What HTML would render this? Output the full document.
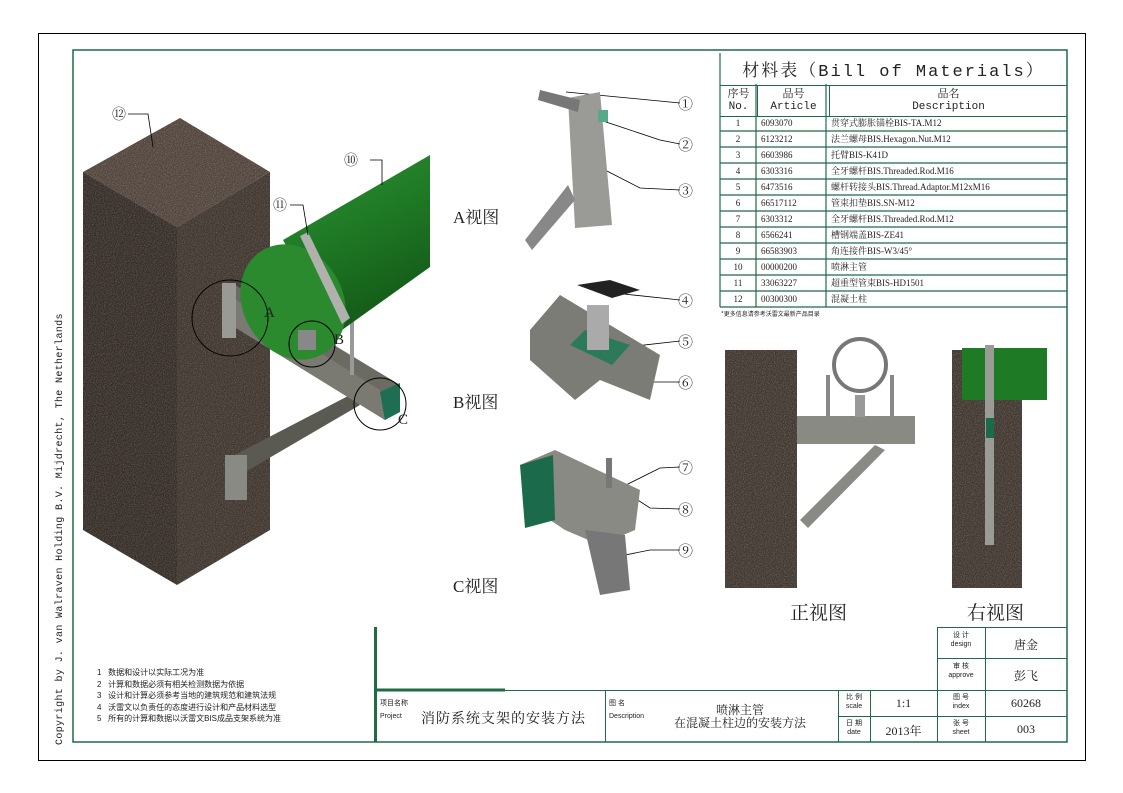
<!DOCTYPE html>
<html><head><meta charset="utf-8"><style>
body{margin:0;background:#fff;}
#c{position:relative;width:1123px;height:793px;overflow:hidden;font-family:"Liberation Serif","Noto Serif CJK SC",serif;color:#222;}
.t{position:absolute;white-space:nowrap;}
table{border-collapse:collapse;}
.g>div{padding-left:5px;}
.g>div.n{text-align:center;padding-left:0}
</style></head><body><div id="c">
<svg width="1123" height="793" style="position:absolute;left:0;top:0">
<defs>
<filter id="n" x="0" y="0" width="100%" height="100%"><feTurbulence type="fractalNoise" baseFrequency="0.9" numOctaves="2" result="t"/><feColorMatrix type="matrix" values="0 0 0 0 0.35 0 0 0 0 0.3 0 0 0 0 0.27 0 0 0 -2.2 1.4"/><feComposite in2="SourceGraphic" operator="in"/></filter>
<linearGradient id="pg" x1="0" y1="0" x2="0.4" y2="1"><stop offset="0" stop-color="#2f8f33"/><stop offset="0.5" stop-color="#1f7a25"/><stop offset="1" stop-color="#145a18"/></linearGradient>
</defs>
<rect x="38.5" y="33.5" width="1047" height="727" fill="none" stroke="#000" stroke-width="1"/>
<rect x="73" y="50" width="994" height="692" fill="none" stroke="#1e6b45" stroke-width="1.5"/>
<!-- column -->
<polygon points="83,172 180,118 270,172 177,227" fill="#4f433b"/>
<polygon points="83,172 177,227 177,585 83,530" fill="#342c27"/>
<polygon points="177,227 270,172 270,530 177,585" fill="#3f3630"/>
<polygon points="83,172 180,118 270,172 177,227" fill="#fff" filter="url(#n)" opacity="0.5"/>
<polygon points="83,172 177,227 177,585 83,530" fill="#fff" filter="url(#n)" opacity="0.4"/>
<polygon points="177,227 270,172 270,530 177,585" fill="#fff" filter="url(#n)" opacity="0.4"/>
<!-- brace lower -->
<polygon points="225,460 350,395 360,405 235,478" fill="#5a5a52"/>
<rect x="225" y="455" width="22" height="45" fill="#8a8a84"/>
<!-- channel -->
<polygon points="223,292 235,285 400,385 400,410 385,420 223,320" fill="#6b6b64"/>
<polygon points="223,292 380,390 385,420 223,320" fill="#7a7a72"/>
<polygon points="380,392 400,383 400,412 385,420" fill="#1d6e52"/>
<rect x="222" y="283" width="14" height="55" fill="#9a9a94"/>
<!-- rod -->
<rect x="350" y="315" width="4" height="60" fill="#999"/>
<!-- pipe -->
<polygon points="283,240 430,155 430,267 335,335" fill="url(#pg)"/>
<ellipse cx="293" cy="302" rx="50" ry="60" fill="#2a8a2d" transform="rotate(-30 293 302)"/>
<polygon points="300,236 308,232 350,318 342,324" fill="#b0b0ac"/>
<rect x="298" y="330" width="18" height="20" fill="#888"/>
<!-- circles -->
<circle cx="230" cy="318" r="38" fill="none" stroke="#000"/>
<circle cx="312" cy="344" r="23" fill="none" stroke="#000"/>
<circle cx="380" cy="404" r="26" fill="none" stroke="#000"/>
<!-- leaders -->
<g fill="none" stroke="#000" stroke-width="0.8">
<polyline points="128,114 148,114 153,147"/>
<polyline points="370,160 382,160 382,185"/>
<polyline points="290,205 303,205 308,235"/>
<polyline points="566,92 680,103"/><polyline points="600,120 660,140 680,144"/><polyline points="605,170 640,188 680,190"/>
<polyline points="605,292 680,300"/><polyline points="600,350 680,341"/><polyline points="605,365 650,382 680,382"/>
<polyline points="620,488 660,468 680,467"/><polyline points="610,482 650,508 680,509"/><polyline points="600,560 650,550 680,550"/>
</g>
<!-- view A -->
<polygon points="568,98 600,92 612,225 575,228" fill="#9a9a96"/>
<polygon points="540,90 580,100 578,112 538,100" fill="#777"/>
<polygon points="525,240 568,185 575,200 532,250" fill="#888"/>
<rect x="598" y="110" width="10" height="12" fill="#5a8"/>
<!-- view B -->
<polygon points="530,330 560,295 660,355 650,400 600,380 575,400 530,360" fill="#7c7c76"/>
<polygon points="570,345 585,330 630,345 612,365" fill="#2c7a5a"/>
<rect x="587" y="305" width="22" height="45" fill="#aaa"/>
<polygon points="577,285 610,280 640,290 612,298" fill="#222"/>
<!-- view C -->
<polygon points="520,465 555,450 640,490 635,530 600,545 565,530 550,520" fill="#8a8a84"/>
<polygon points="520,465 553,455 555,520 525,528" fill="#1b6a4c"/>
<polygon points="585,530 625,535 630,590 600,595" fill="#777"/>
<rect x="606" y="458" width="6" height="30" fill="#777"/>
<!-- front view -->
<rect x="725" y="350" width="72" height="238" fill="#3f3630"/>
<rect x="725" y="350" width="72" height="238" fill="#fff" filter="url(#n)" opacity="0.45"/>
<rect x="797" y="416" width="118" height="28" fill="#8a8a84"/>
<polygon points="800,520 875,445 885,450 808,528" fill="#8a8a84"/>
<circle cx="860" cy="365" r="26" fill="none" stroke="#777" stroke-width="4"/>
<rect x="826" y="375" width="4" height="42" fill="#888"/><rect x="890" y="375" width="4" height="42" fill="#888"/>
<rect x="855" y="395" width="10" height="22" fill="#999"/>
<!-- right view -->
<rect x="952" y="350" width="70" height="238" fill="#3f3630"/>
<rect x="952" y="350" width="70" height="238" fill="#fff" filter="url(#n)" opacity="0.45"/>
<rect x="962" y="348" width="85" height="52" fill="#1f7a25"/>
<rect x="985" y="345" width="9" height="200" fill="#9a9a96"/>
<rect x="986" y="418" width="8" height="20" fill="#1b6a4c"/>
<!-- title block lines -->
<g stroke="#1e6b45" fill="none" stroke-width="1">
<line x1="375.5" y1="627" x2="375.5" y2="742" stroke-width="3"/>
<line x1="375" y1="690" x2="505" y2="690" stroke-width="3"/>
<line x1="505" y1="690.5" x2="1067" y2="690.5"/>
<line x1="937" y1="627.5" x2="1067" y2="627.5"/>
<line x1="937.5" y1="627" x2="937.5" y2="742"/>
<line x1="985.5" y1="627" x2="985.5" y2="742"/>
<line x1="937" y1="658.5" x2="1067" y2="658.5"/>
<line x1="605.5" y1="690" x2="605.5" y2="742"/>
<line x1="838.5" y1="690" x2="838.5" y2="742"/>
<line x1="870.5" y1="690" x2="870.5" y2="742"/>
<line x1="838" y1="716.5" x2="1067" y2="716.5"/>
</g>
</svg>
<!-- balloons -->
<div class="t" style="left:112px;top:104px;font-size:14px">⑫</div>
<div class="t" style="left:344px;top:150px;font-size:14px">⑩</div>
<div class="t" style="left:273px;top:195px;font-size:14px">⑪</div>
<div class="t" style="left:678px;top:93px;font-size:15px">①</div>
<div class="t" style="left:678px;top:134px;font-size:15px">②</div>
<div class="t" style="left:678px;top:180px;font-size:15px">③</div>
<div class="t" style="left:678px;top:290px;font-size:15px">④</div>
<div class="t" style="left:678px;top:331px;font-size:15px">⑤</div>
<div class="t" style="left:678px;top:372px;font-size:15px">⑥</div>
<div class="t" style="left:678px;top:457px;font-size:15px">⑦</div>
<div class="t" style="left:678px;top:499px;font-size:15px">⑧</div>
<div class="t" style="left:678px;top:540px;font-size:15px">⑨</div>
<div class="t" style="left:264px;top:305px;font-size:15px">A</div>
<div class="t" style="left:334px;top:332px;font-size:15px">B</div>
<div class="t" style="left:398px;top:412px;font-size:15px">C</div>
<div class="t" style="left:453px;top:203px;font-size:17px">A视图</div>
<div class="t" style="left:453px;top:388px;font-size:17px">B视图</div>
<div class="t" style="left:453px;top:572px;font-size:17px">C视图</div>
<div class="t" style="left:790px;top:598px;font-size:19px">正视图</div>
<div class="t" style="left:967px;top:598px;font-size:19px">右视图</div>
<div class="t" style="left:55px;top:745px;font-size:10px;transform:rotate(-90deg);transform-origin:0 0;letter-spacing:0.35px;font-family:'Liberation Mono',monospace">Copyright by J. van Walraven Holding B.V.  Mijdrecht, The Netherlands</div>
<!-- BOM -->
<table style="position:absolute;left:720px;top:53px;width:347px;font-size:9.5px;" border="0">
<tr><td colspan="3" style="height:30px;border-bottom:1.5px solid #1e6b45;text-align:center;font-size:17px;letter-spacing:2px;font-family:'Liberation Mono','Noto Serif CJK SC',monospace">材料表（Bill of Materials）</td></tr>
<tr style="height:31px;text-align:center;font-size:11px;line-height:12px;font-family:'Liberation Mono','Noto Serif CJK SC',monospace"><td style="width:35px;border-right:1.5px solid #1e6b45;border-bottom:1.5px solid #1e6b45">序号<br>No.</td><td style="width:69px;border-right:1.5px solid #1e6b45;border-bottom:1.5px solid #1e6b45">品号<br>Article</td><td style="border-bottom:1.5px solid #1e6b45">品名<br>Description</td></tr>
</table>
<div style="position:absolute;left:720px;top:115px;width:347px;font-size:9px;font-family:'Liberation Serif','Noto Serif CJK SC',serif">
<div class="g" style="display:grid;grid-template-columns:36px 70px 1fr;grid-auto-rows:16px;line-height:16px">
<div class="n">1</div><div>6093070</div><div>贯穿式膨胀锚栓BIS-TA.M12</div>
<div class="n">2</div><div>6123212</div><div>法兰螺母BIS.Hexagon.Nut.M12</div>
<div class="n">3</div><div>6603986</div><div>托臂BIS-K41D</div>
<div class="n">4</div><div>6303316</div><div>全牙螺杆BIS.Threaded.Rod.M16</div>
<div class="n">5</div><div>6473516</div><div>螺杆转接头BIS.Thread.Adaptor.M12xM16</div>
<div class="n">6</div><div>66517112</div><div>管束扣垫BIS.SN-M12</div>
<div class="n">7</div><div>6303312</div><div>全牙螺杆BIS.Threaded.Rod.M12</div>
<div class="n">8</div><div>6566241</div><div>槽钢端盖BIS-ZE41</div>
<div class="n">9</div><div>66583903</div><div>角连接件BIS-W3/45°</div>
<div class="n">10</div><div>00000200</div><div>喷淋主管</div>
<div class="n">11</div><div>33063227</div><div>超重型管束BIS-HD1501</div>
<div class="n">12</div><div>00300300</div><div>混凝土柱</div>
</div></div>
<svg width="1123" height="793" style="position:absolute;left:0;top:0;pointer-events:none">
<g stroke="#1e6b45" stroke-width="1.2">
<line x1="720" y1="53" x2="720" y2="307"/>
<line x1="756" y1="84" x2="756" y2="307"/><line x1="826" y1="84" x2="826" y2="307"/>
<line x1="720" y1="131" x2="1067" y2="131"/><line x1="720" y1="147" x2="1067" y2="147"/><line x1="720" y1="163" x2="1067" y2="163"/><line x1="720" y1="179" x2="1067" y2="179"/><line x1="720" y1="195" x2="1067" y2="195"/><line x1="720" y1="211" x2="1067" y2="211"/><line x1="720" y1="227" x2="1067" y2="227"/><line x1="720" y1="243" x2="1067" y2="243"/><line x1="720" y1="259" x2="1067" y2="259"/><line x1="720" y1="275" x2="1067" y2="275"/><line x1="720" y1="291" x2="1067" y2="291"/><line x1="720" y1="307" x2="1067" y2="307"/>
</g></svg>
<div class="t" style="left:721px;top:309px;font-size:6px;font-family:'Noto Sans CJK SC',sans-serif">*更多信息请参考沃雷文最新产品目录</div>
<!-- notes -->
<div class="t" style="left:97px;top:667px;font-size:8px;line-height:11.5px;font-family:'Liberation Sans','Noto Sans CJK SC',sans-serif">1&nbsp;&nbsp;&nbsp;数据和设计以实际工况为准<br>2&nbsp;&nbsp;&nbsp;计算和数据必须有相关检测数据为依据<br>3&nbsp;&nbsp;&nbsp;设计和计算必须参考当地的建筑规范和建筑法规<br>4&nbsp;&nbsp;&nbsp;沃雷文以负责任的态度进行设计和产品材料选型<br>5&nbsp;&nbsp;&nbsp;所有的计算和数据以沃雷文BIS成品支架系统为准</div>
<!-- title block text -->
<div class="t" style="left:380px;top:697px;font-size:7px;font-family:'Liberation Sans','Noto Sans CJK SC',sans-serif;line-height:13px">项目名称<br>Project</div>
<div class="t" style="left:421px;top:708px;font-size:14px;letter-spacing:1px">消防系统支架的安装方法</div>
<div class="t" style="left:609px;top:697px;font-size:7px;font-family:'Liberation Sans','Noto Sans CJK SC',sans-serif;line-height:13px">图 名<br>Description</div>
<div class="t" style="left:666px;top:704px;font-size:12px;text-align:center;line-height:13px;width:148px">喷淋主管<br>在混凝土柱边的安装方法</div>
<div class="t" style="left:838px;top:693px;width:32px;text-align:center;font-size:7px;line-height:9px;font-family:'Liberation Sans','Noto Sans CJK SC',sans-serif">比 例<br>scale</div>
<div class="t" style="left:838px;top:719px;width:32px;text-align:center;font-size:7px;line-height:9px;font-family:'Liberation Sans','Noto Sans CJK SC',sans-serif">日 期<br>date</div>
<div class="t" style="left:870px;top:696px;width:67px;text-align:center;font-size:12px">1:1</div>
<div class="t" style="left:870px;top:722px;width:67px;text-align:center;font-size:12px">2013年</div>
<div class="t" style="left:937px;top:631px;width:48px;text-align:center;font-size:7px;line-height:9px;font-family:'Liberation Sans','Noto Sans CJK SC',sans-serif">设 计<br>design</div>
<div class="t" style="left:937px;top:662px;width:48px;text-align:center;font-size:7px;line-height:9px;font-family:'Liberation Sans','Noto Sans CJK SC',sans-serif">审 核<br>approve</div>
<div class="t" style="left:937px;top:693px;width:48px;text-align:center;font-size:7px;line-height:9px;font-family:'Liberation Sans','Noto Sans CJK SC',sans-serif">图 号<br>index</div>
<div class="t" style="left:937px;top:719px;width:48px;text-align:center;font-size:7px;line-height:9px;font-family:'Liberation Sans','Noto Sans CJK SC',sans-serif">张 号<br>sheet</div>
<div class="t" style="left:985px;top:636px;width:82px;text-align:center;font-size:12px">唐金</div>
<div class="t" style="left:985px;top:667px;width:82px;text-align:center;font-size:12px">彭飞</div>
<div class="t" style="left:985px;top:696px;width:82px;text-align:center;font-size:12px">60268</div>
<div class="t" style="left:985px;top:722px;width:82px;text-align:center;font-size:12px">003</div>
</div></body></html>
